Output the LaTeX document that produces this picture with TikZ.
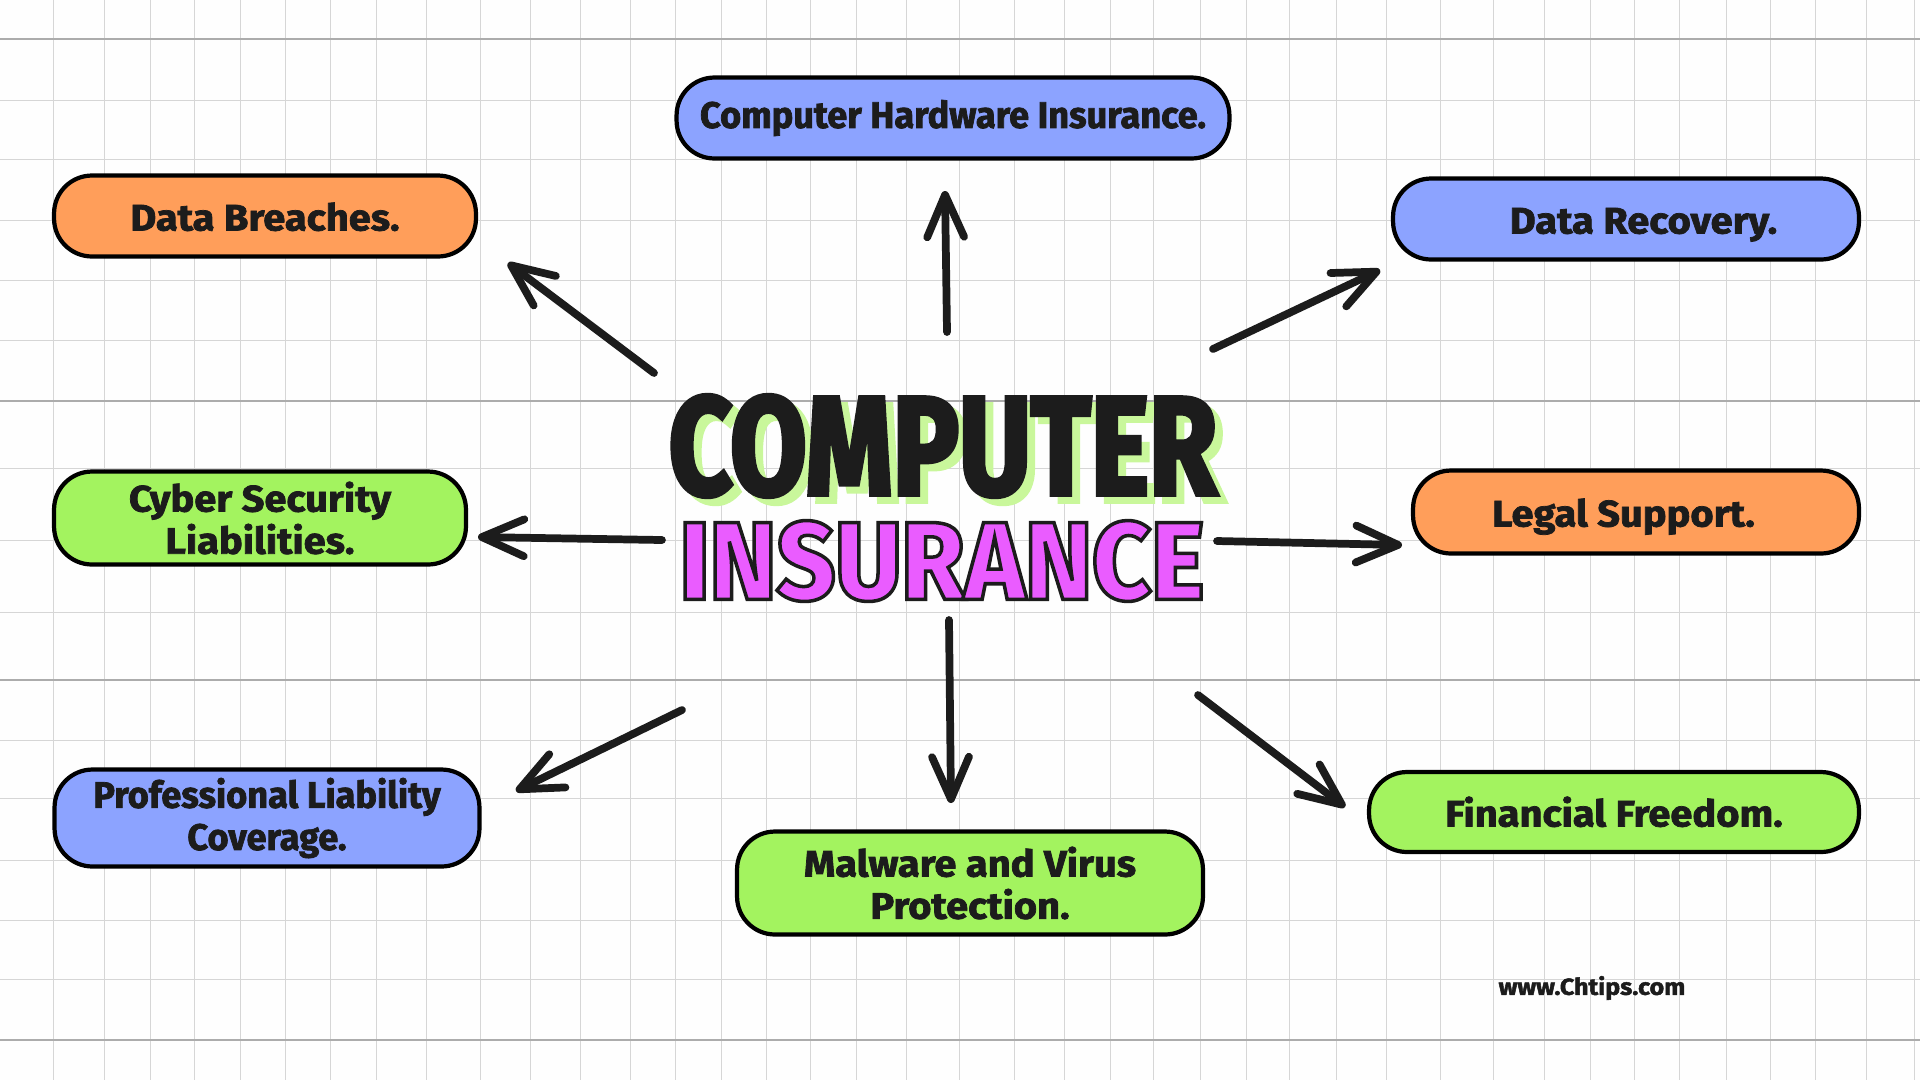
\documentclass[tikz,border=0pt]{standalone}
\usepackage{fontspec}
\setmainfont{Fira Sans}[UprightFont=*-Bold,FakeStretch=1.08,FakeBold=2]
\newfontfamily\narrowfont{Fira Sans}[UprightFont=*-Bold,FakeStretch=0.98,FakeBold=2]
\newfontfamily\titlefont{Fira Sans}[UprightFont=*-Bold,FakeStretch=0.787,FakeBold=3]
\newfontfamily\pinkfont{Fira Sans}[UprightFont=*-ExtraBold,FakeStretch=0.92]
\usetikzlibrary{arrows.meta}
\definecolor{inkdark}{HTML}{1C1C1C}
\definecolor{boxorange}{HTML}{FF9E5A}
\definecolor{boxblue}{HTML}{8CA3FF}
\definecolor{boxgreen}{HTML}{A3F35F}
\definecolor{titlepink}{HTML}{EA5CFF}
\definecolor{titleshade}{HTML}{C9F79B}
\tikzset{
  box/.style={draw=black,line width=2.4pt,rounded corners=0.76cm,align=center,text=inkdark,font=\fontsize{21}{24}\selectfont,inner sep=0pt},
  oneline/.style={text height=0.58cm,text depth=0pt},
  gridline/.style={draw=gray!32,line width=0.5pt},
  gridstrong/.style={draw=gray!65,line width=0.7pt},
  spoke/.style={draw=inkdark,line width=4.4pt,line cap=round,-{Straight Barb[length=24pt,width=21pt,line width=4.4pt,round]}}
}
\begin{document}
\begin{tikzpicture}[x=0.02cm,y=-0.02cm]
\useasboundingbox (0,0) rectangle (1920,1080);
\fill[white!99!gray] (0,0) rectangle (1920,1080);

% paper grid
\foreach \gx in {53,104,150,194,240,285,330,376,426,480,530,580,630,675,721,766,810,856,906,959,1014,1064,1110,1153,1200,1246,1289,1336,1386,1440,1493,1544,1590,1634,1679,1726,1770,1815,1866,1914}
  \path[gridline] (\gx,0) -- (\gx,1080);
\foreach \gy in {100,159,220,280,340,468,540,612,740,798,860,920,979}
  \path[gridline] (0,\gy) -- (1920,\gy);
\foreach \gy in {39,401,680,1040}
  \path[gridstrong] (0,\gy) -- (1920,\gy);

% title
\node[text=titleshade,font=\titlefont\fontsize{80}{84}\selectfont] (shade) at (951,453) {COMPUTER};
\node[text=inkdark,font=\titlefont\fontsize{80}{84}\selectfont] (computer) at (943,446) {COMPUTER};
\node[text=titlepink,font=\pinkfont\fontsize{63}{66}\selectfont] (insurance) at (942,561) {\special{pdf:code 0.11 0.11 0.11 RG 2 Tr 2 w}INSURANCE};

% boxes
\node[box,fill=boxblue,minimum width=11.06cm,minimum height=1.62cm] (hardware) at (953,118) {\narrowfont Computer Hardware Insurance.};
\node[box,oneline,fill=boxorange,minimum width=8.44cm,minimum height=1.62cm] (breaches) at (265,216) {Data Breaches.};
\node[box,oneline,fill=boxblue,minimum width=9.32cm,minimum height=1.62cm] (recovery) at (1626,219) {\hspace{0.7cm}Data Recovery.};
\node[box,fill=boxgreen,minimum width=8.24cm,minimum height=1.86cm] (cyber) at (260,518) {Cyber Security\\Liabilities.};
\node[box,oneline,fill=boxorange,minimum width=8.92cm,minimum height=1.66cm] (legal) at (1636,512) {Legal Support.\hspace{0.5cm}};
\node[box,fill=boxblue,minimum width=8.50cm,minimum height=1.94cm,font=\narrowfont\fontsize{21}{24}\selectfont] (liability) at (267,818) {Professional Liability\\Coverage.};
\node[box,fill=boxgreen,minimum width=9.32cm,minimum height=2.06cm] (malware) at (970,883) {Malware and Virus\\Protection.};
\node[box,oneline,fill=boxgreen,minimum width=9.80cm,minimum height=1.60cm] (freedom) at (1614,812) {Financial Freedom.};
\node[text=inkdark,font=\fontsize{13.2}{16}\selectfont] (site) at (1592,988) {www.Chtips.com};

% spokes
\coordinate (a1) at (654,373); \coordinate (b1) at (508,263);
\coordinate (a2) at (947,332); \coordinate (b2) at (945,191);
\coordinate (a3) at (1213,349); \coordinate (b3) at (1380,270);
\coordinate (a4) at (662,540); \coordinate (b4) at (478,537);
\coordinate (a5) at (1217,541); \coordinate (b5) at (1402,545);
\coordinate (a6) at (682,710); \coordinate (b6) at (516,791);
\coordinate (a7) at (949,620); \coordinate (b7) at (951,803);
\coordinate (a8) at (1198,695); \coordinate (b8) at (1345,807);
\path[spoke] (a1) -- (b1);
\path[spoke] (a2) -- (b2);
\path[spoke] (a3) -- (b3);
\path[spoke] (a4) -- (b4);
\path[spoke] (a5) -- (b5);
\path[spoke] (a6) -- (b6);
\path[spoke] (a7) -- (b7);
\path[spoke] (a8) -- (b8);
\end{tikzpicture}
\end{document}
